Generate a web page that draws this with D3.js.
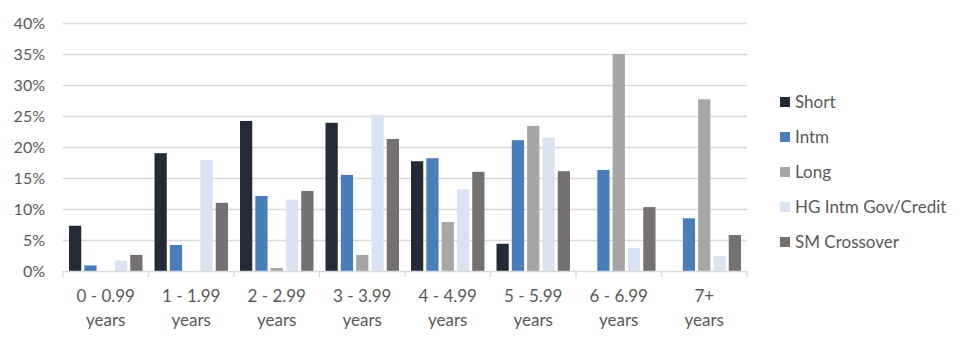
<!DOCTYPE html>
<html><head><meta charset="utf-8">
<script src="https://cdn.jsdelivr.net/npm/d3@7"></script>
<style>body{margin:0;background:#fff}svg{display:block}text{font-family:Lato,"Open Sans","Liberation Sans",sans-serif;fill:#595959}</style>
</head><body><svg id="c" width="967" height="344"></svg>
<script>
const categories = ["0 - 0.99 years","1 - 1.99 years","2 - 2.99 years","3 - 3.99 years","4 - 4.99 years","5 - 5.99 years","6 - 6.99 years","7+ years"];
const seriesNames = ["Short","Intm","Long","HG Intm Gov/Credit","SM Crossover"];
const shortVals = [7.3,19.0,24.2,23.9,17.7,4.4,0,0];
const intmVals = [0.9,4.2,12.1,15.5,18.2,21.1,16.3,8.5];
const longVals = [0,0,0.5,2.6,7.9,23.4,35.0,27.7];
const hgVals = [1.7,17.9,11.5,25.2,13.2,21.5,3.7,2.4];
const smVals = [2.6,11.0,12.9,21.3,16.0,16.1,10.3,5.8];
const colors = ["#232b38","#4a7ebb","#a6a6a6","#dae3f3","#767171"];
const yTicks = [0,5,10,15,20,25,30,35,40];

(function(){
const values = [shortVals,intmVals,longVals,hgVals,smVals];
const svg = d3.select("#c");
const pl=63, pr=747, pt=23, pb=271;
const fs = "17px";
const x = d3.scaleBand().domain(categories).range([pl,pr]);
const xs = d3.scaleBand().domain(seriesNames).range([6, x.bandwidth()-6]).paddingInner(0.2);
const y = d3.scaleLinear().domain([0,40]).range([pb,pt]);

svg.append("g").selectAll("line").data(yTicks.filter(d=>d>0)).join("line")
  .attr("x1",pl).attr("x2",pr).attr("y1",d=>y(d)+0.5).attr("y2",d=>y(d)+0.5)
  .attr("stroke","#d9d9d9").attr("stroke-width",1.3);
svg.append("g").selectAll("text").data(yTicks).join("text")
  .attr("x",45).attr("y",d=>y(d)).attr("dy","0.36em").attr("text-anchor","end")
  .style("font-size","16px").text(d=>d+"%");

const g = svg.append("g");
seriesNames.forEach((s,si)=>{
  g.append("g").selectAll("rect").data(values[si]).join("rect")
   .attr("x",(d,i)=>x(categories[i])+xs(s)).attr("width",xs.bandwidth())
   .attr("y",d=>y(d)).attr("height",d=>y(0)-y(d)).attr("fill",colors[si]);
});

svg.append("line").attr("x1",pl).attr("x2",pr).attr("y1",pb+0.5).attr("y2",pb+0.5)
  .attr("stroke","#d9d9d9").attr("stroke-width",1.3);
const tickPos = categories.map(c=>x(c)).concat([pr]);
svg.append("g").selectAll("line").data(tickPos).join("line")
  .attr("x1",d=>d).attr("x2",d=>d).attr("y1",pb).attr("y2",pb+6)
  .attr("stroke","#d9d9d9").attr("stroke-width",1.3);
const xl = svg.append("g").selectAll("text").data(categories).join("text")
  .attr("text-anchor","middle").style("font-size",fs);
xl.each(function(c){
  const parts = c.split(" years");
  const t = d3.select(this);
  const cx = x(c)+x.bandwidth()/2;
  t.append("tspan").attr("x",cx).attr("y",302).text(parts[0]);
  t.append("tspan").attr("x",cx).attr("y",326).text("years");
});

const lg = svg.append("g");
seriesNames.forEach((s,i)=>{
  const cy = 102 + i*35;
  lg.append("rect").attr("x",780).attr("y",cy-5).attr("width",10).attr("height",10).attr("fill",colors[i]);
  lg.append("text").attr("x",795).attr("y",cy).attr("dy","0.36em").style("font-size",fs).text(s);
});
})();
</script></body></html>
